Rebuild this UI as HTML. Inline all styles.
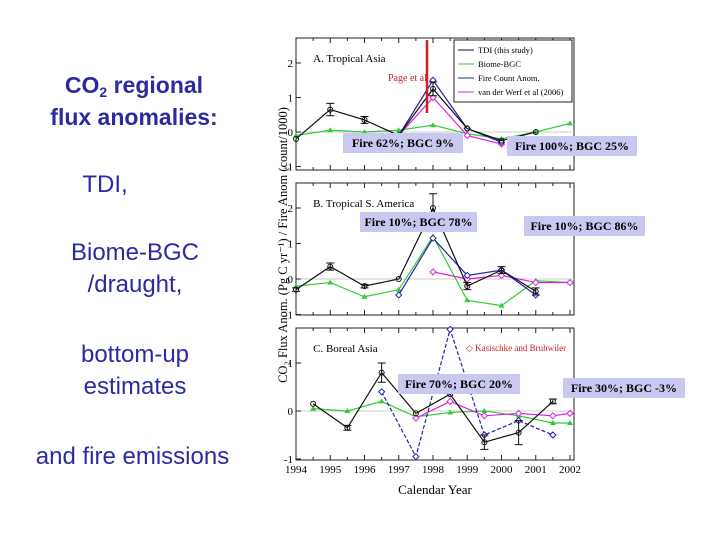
<!DOCTYPE html>
<html><head><meta charset="utf-8"><style>
body{margin:0;width:720px;height:540px;background:#fff;overflow:hidden;position:relative;font-family:"Liberation Sans",sans-serif}
.t{position:absolute;color:#2b2ba0;text-align:center;font-size:24px;line-height:32px}
.lab{position:absolute;background:#c8c8f0;font-family:"Liberation Serif",serif;font-weight:bold;font-size:12px;text-align:center;line-height:20px;height:20px}
sub{line-height:0;position:relative;top:4px;vertical-align:baseline}
</style></head><body>
<div class="t" style="left:20px;top:69px;width:228px;font-weight:bold;font-size:23px;line-height:32px">CO<sub style="font-size:14px">2</sub> regional<br>flux anomalies:</div>
<div class="t" style="left:60px;top:169px;width:90px">TDI,</div>
<div class="t" style="left:40px;top:237px;width:190px">Biome-BGC<br>/draught,</div>
<div class="t" style="left:50px;top:339px;width:170px">bottom-up<br>estimates</div>
<div class="t" style="left:10px;top:441px;width:245px">and fire emissions</div>
<svg id="c" width="720" height="540" style="position:absolute;left:0;top:0"></svg>
<div class="lab" style="left:343px;top:133px;width:120px">Fire 62%; BGC 9%</div>
<div class="lab" style="left:507px;top:136px;width:130px">Fire 100%; BGC 25%</div>
<div class="lab" style="left:360px;top:212px;width:117px">Fire 10%; BGC 78%</div>
<div class="lab" style="left:524px;top:216px;width:121px">Fire 10%; BGC 86%</div>
<div class="lab" style="left:398px;top:374px;width:122px">Fire 70%; BGC 20%</div>
<div class="lab" style="left:563px;top:378px;width:122px">Fire 30%; BGC -3%</div>
<script>
const yearTicks=[1994,1995,1996,1997,1998,1999,2000,2001,2002];
const aYears=[1994,1995,1996,1997,1998,1999,2000,2001,2002];
const aTDI=[-0.2,0.65,0.35,-0.1,1.25,0.1,-0.25,0.0,null];
const aErr=[0,0.18,0.1,0,0.2,0,0,0,0];
const aBGC=[-0.1,0.05,0.0,0.05,0.2,-0.05,-0.2,0.0,0.25];
const aFire=[null,null,null,-0.1,1.5,0.1,-0.3,null,null];
const aVdw=[null,null,null,-0.1,1.0,-0.1,-0.35,null,null];
const bYears=[1994,1995,1996,1997,1998,1999,2000,2001,2002];
const bTDI=[-0.3,0.35,-0.2,0.0,2.0,-0.2,0.25,-0.35,null];
const bErr=[0.05,0.1,0.05,0,0.4,0.1,0.1,0.1,0];
const bBGC=[-0.2,-0.1,-0.5,-0.3,1.2,-0.6,-0.75,-0.05,-0.1];
const bFire=[null,null,null,-0.45,1.15,0.1,0.25,-0.45,null];
const bVdw=[null,null,null,null,0.2,0.0,0.1,-0.1,-0.1];
const cYears=[1994.5,1995.5,1996.5,1997.5,1998.5,1999.5,2000.5,2001.5,2002];
const cTDI=[0.15,-0.35,0.8,-0.05,0.35,-0.65,-0.45,0.2,null];
const cErr=[0,0.05,0.2,0,0,0.15,0.25,0.05,0];
const cBGC=[0.05,0.0,0.2,-0.12,-0.03,0.0,-0.1,-0.25,-0.25];
const cFire=[null,null,0.4,-0.95,1.7,-0.5,-0.2,-0.5,null];
const cVdw=[null,null,null,-0.15,0.2,-0.1,-0.05,-0.1,-0.05];
const svg=document.getElementById('c');const NS='http://www.w3.org/2000/svg';
function el(t,a,txt){const e=document.createElementNS(NS,t);for(const k in a)e.setAttribute(k,a[k]);if(txt!=null)e.textContent=txt;svg.appendChild(e);return e;}
const X=y=>296+(y-1994)*34.25;
const panels=[
{n:'a',top:38,bot:170,y0:132,u:34.5,ticks:[-1,0,1,2],yr:aYears,s:[aBGC,aVdw,aFire,aTDI],err:aErr,title:'A. Tropical Asia'},
{n:'b',top:183,bot:315,y0:279,u:35.5,ticks:[-1,0,1,2],yr:bYears,s:[bBGC,bVdw,bFire,bTDI],err:bErr,title:'B. Tropical S. America'},
{n:'c',top:328,bot:460,y0:411,u:48,ticks:[-1,0,1],yr:cYears,s:[cBGC,cVdw,cFire,cTDI],err:cErr,title:'C. Boreal Asia'}];
const cols=['#33cc33','#dd22dd','#2222aa','#111'];
panels.forEach(p=>{
 const Y=v=>p.y0-v*p.u;
 let r=el('rect',{x:296,y:p.top,width:278,height:p.bot-p.top,fill:'none',stroke:'#222','stroke-width':1});
 
 el('line',{x1:296,x2:574,y1:p.y0,y2:p.y0,stroke:'#ccc'});
 p.ticks.forEach(t=>{el('line',{x1:296,x2:301,y1:Y(t),y2:Y(t),stroke:'#222'});
  const tx=el('text',{x:293,y:Y(t)+4,'text-anchor':'end','font-size':11,'font-family':'Liberation Serif,serif'},t);
  });
 for(let y=1994;y<=2002;y+=0.5){const l=y%1?3:5;el('line',{x1:X(y),x2:X(y),y1:p.bot,y2:p.bot-l,stroke:'#222'});el('line',{x1:X(y),x2:X(y),y1:p.top,y2:p.top+l,stroke:'#222'});}
 const tt=el('text',{x:X(1994.5),y:p.top+24,'font-size':11,'font-family':'Liberation Serif,serif'},p.title);
 
 p.s.forEach((s,i)=>{
  let d='';let pen=false;
  s.forEach((v,j)=>{if(v==null){pen=false;return;}d+=(pen?'L':'M')+X(p.yr[j])+','+Y(v);pen=true;});
  const pl=el('path',{d:d,fill:'none',stroke:cols[i],'stroke-width':1.2,'stroke-dasharray':(p.n=='c'&&i==2)?'4,2':'none'});
  
  s.forEach((v,j)=>{if(v==null)return;const x=X(p.yr[j]),y=Y(v);
   if(i==0)el('path',{d:`M${x},${y-3}L${x+3},${y+2}L${x-3},${y+2}Z`,fill:'#33cc33'});
   else if(i==3){el('circle',{cx:x,cy:y,r:2.5,fill:'none',stroke:'#111'});
    const e=p.err[j];if(e>0){const a=Y(v+e),b=Y(v-e);el('path',{d:`M${x},${a}L${x},${b}M${x-4},${a}L${x+4},${a}M${x-4},${b}L${x+4},${b}`,stroke:'#111',fill:'none'});}}
   else el('path',{d:`M${x},${y-3}L${x+3},${y}L${x},${y+3}L${x-3},${y}Z`,fill:'#fff',stroke:cols[i]});});
 });
});
const lg=el('rect',{x:454,y:40,width:118,height:62,fill:'#fff',stroke:'#222'});

['TDI (this study)','Biome-BGC','Fire Count Anom.','van der Werf et al (2006)'].forEach((t,i)=>{
 const y=50+i*14;el('line',{x1:458,x2:474,y1:y,y2:y,stroke:[cols[3],cols[0],cols[2],cols[1]][i]});
 const e=el('text',{x:478,y:y+3,'font-size':8.5,'font-family':'Liberation Serif,serif'},t);
 });
el('line',{x1:427,x2:427,y1:40,y2:113,stroke:'#cc2222','stroke-width':2.5});
el('text',{x:388,y:81,'font-size':10,fill:'#cc2222','font-family':'Liberation Serif,serif'},'Page et al');
el('text',{x:466,y:351,'font-size':9,fill:'#cc2222','font-family':'Liberation Serif,serif'},'◇ Kasischke and Bruhwiler');
yearTicks.forEach(y=>{const e=el('text',{x:X(y),y:473,'text-anchor':'middle','font-size':11,'font-family':'Liberation Serif,serif'},y);
 });
const xt=el('text',{x:435,y:494,'text-anchor':'middle','font-size':13,'font-family':'Liberation Serif,serif'},'Calendar Year');

const yt=el('text',{x:0,y:0,'text-anchor':'middle','font-size':12.5,'font-family':'Liberation Serif,serif',transform:'translate(287,245) rotate(-90)'},'CO\u2082 Flux Anom. (Pg C yr\u207B\u00B9) / Fire Anom (count/1000)');

</script>
</body></html>
